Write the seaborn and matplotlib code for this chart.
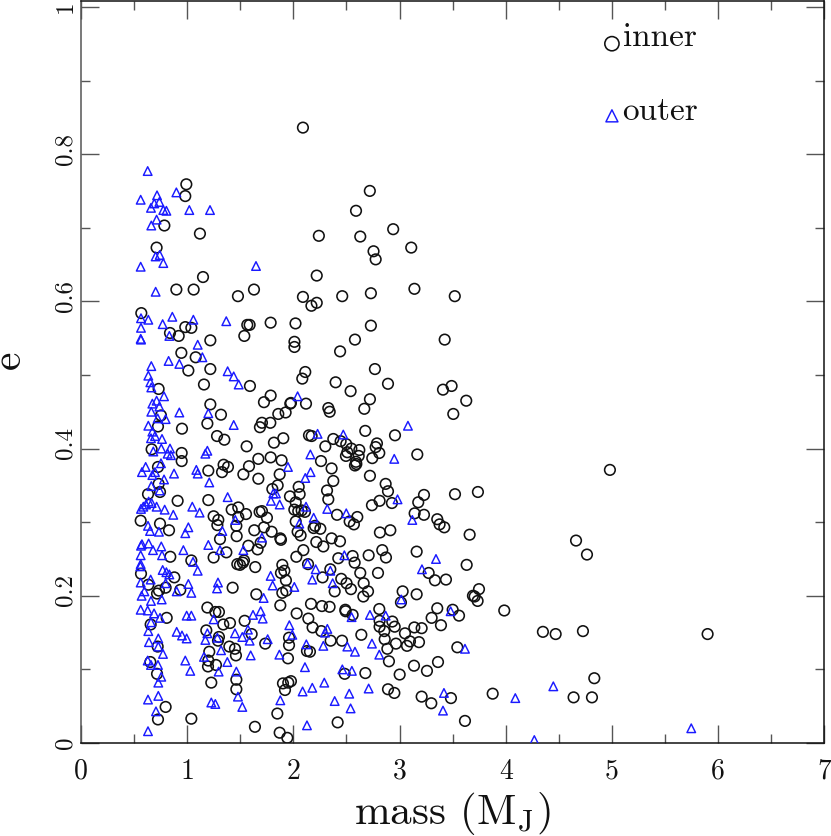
import matplotlib
matplotlib.use('Agg')
import matplotlib.pyplot as plt
import matplotlib.transforms as mtransforms
import seaborn as sns

# values
inner_mass = [
    0.992, 0.982, 0.785, 1.12, 0.712, 1.149, 0.898, 1.061, 1.478, 1.629,
    0.568, 0.982, 1.039, 1.566, 1.588, 1.786, 0.838, 0.92, 1.218, 1.538,
    2.09, 2.72, 2.59, 2.24, 2.63, 2.94, 3.11, 2.755, 2.775, 2.22,
    2.09, 2.22, 2.17, 2.46, 2.73, 3.14, 3.52, 2.02, 2.73, 2.58,
    3.425, 2.01, 2.01, 2.44,
    1.08, 1.011, 1.218, 1.158, 1.591, 0.731, 1.786, 1.723, 1.218, 1.318,
    0.945, 0.753, 1.19, 0.725, 0.951, 1.704, 1.685, 1.783, 1.281, 1.35,
    1.817, 1.56, 0.665, 0.948, 0.948, 1.67, 1.786, 0.725, 1.343, 1.384,
    1.328, 1.199, 1.582, 1.529, 1.67, 0.731, 1.802, 0.744, 0.631, 0.91,
    1.199, 1.481, 1.419, 1.554, 1.481, 1.682, 1.704, 1.751, 1.249, 1.293,
    1.284, 0.562, 0.744, 0.829, 1.463, 1.723, 1.632, 1.795, 1.309, 1.466,
    1.576, 1.692, 1.663,
    0.841, 1.039, 1.249, 1.369, 1.535, 1.525, 1.497, 1.472, 1.641, 0.565,
    0.634, 0.879, 0.935, 0.797, 0.734, 0.716, 1.428, 1.651, 1.19, 1.265,
    1.299, 0.807, 1.34, 1.403, 1.541, 0.656, 1.18, 1.607, 1.299, 1.29,
    1.735, 0.722, 1.397, 1.45, 1.208, 1.459, 0.653, 1.199, 1.196, 1.271,
    0.716, 1.463, 1.227, 1.463, 0.797, 0.725, 1.039, 1.638,
    2.768, 2.112, 2.084, 2.398, 2.891, 2.539, 3.49, 3.409, 3.628, 2.721,
    2.668, 2.329, 2.342, 2.119, 1.977, 1.971, 1.927, 1.858, 3.506, 2.677,
    2.957, 1.905, 2.147, 2.172, 2.376, 2.445, 2.498, 2.301, 2.787, 2.775,
    2.809, 2.546, 2.621, 2.615, 2.508, 2.495, 2.743, 2.59, 2.58, 2.593,
    2.26, 3.167, 1.889, 2.36, 1.871, 2.721, 2.376, 2.869, 2.891, 1.852,
    2.05, 2.059, 2.317, 2.329, 1.968, 2.022, 3.23, 3.522, 3.738, 3.176,
    2.812, 2.74, 2.928, 2.009, 2.046, 2.078, 2.109, 2.411, 2.602, 2.53,
    2.57, 3.142, 3.23, 3.355, 3.377, 3.421, 2.022, 2.204, 2.254, 2.191,
    2.04, 2.068, 1.883, 1.877, 2.815, 2.913, 3.66, 2.36, 2.439, 2.216,
    2.282, 2.094, 2.837, 3.161,
    1.896, 2.028, 2.423, 2.558, 2.577, 2.709, 2.872, 3.632, 2.138, 1.883,
    1.915, 1.93, 2.348, 2.275, 2.451, 2.501, 2.542, 2.63, 2.797, 2.662,
    2.703, 2.659, 2.389, 3.274, 3.333, 3.437, 1.896, 1.933, 3.029, 3.161,
    3.013, 1.877, 2.166, 2.269, 2.341, 2.489, 2.492, 2.558, 2.809, 2.031,
    2.141, 2.181, 2.263, 2.812, 2.932, 2.954, 2.812, 2.856, 3.355, 3.5,
    3.56, 3.302, 3.39, 3.139, 3.208, 3.051, 2.64, 1.959, 1.959, 2.351,
    2.458, 2.86, 2.966, 3.098, 3.07, 3.183, 2.885, 3.544, 2.128, 2.156,
    1.949, 2.9, 3.136, 3.362, 3.258, 2.678, 2.483, 3.001, 1.902, 1.952,
    1.977, 1.921, 2.891, 2.951, 3.208, 3.299, 3.484, 1.849, 2.417, 3.616,
    1.871, 1.943,
    4.981, 4.662, 4.765, 3.748, 3.691, 3.707, 3.735, 3.986, 4.35, 4.47,
    4.727, 5.901, 4.834, 3.877, 4.639, 4.812,
]
inner_e = [
    0.759, 0.743, 0.703, 0.692, 0.673, 0.633, 0.616, 0.616, 0.607, 0.616,
    0.584, 0.565, 0.564, 0.568, 0.568, 0.571, 0.557, 0.553, 0.547, 0.553,
    0.836, 0.75, 0.723, 0.689, 0.688, 0.698, 0.673, 0.668, 0.657, 0.635,
    0.606, 0.598, 0.594, 0.607, 0.611, 0.617, 0.607, 0.57, 0.567, 0.548,
    0.548, 0.545, 0.538, 0.532,
    0.524, 0.506, 0.508, 0.487, 0.485, 0.481, 0.472, 0.463, 0.46, 0.446,
    0.53, 0.445, 0.434, 0.43, 0.427, 0.435, 0.429, 0.435, 0.417, 0.412,
    0.408, 0.403, 0.399, 0.394, 0.383, 0.386, 0.388, 0.375, 0.378, 0.375,
    0.368, 0.37, 0.376, 0.365, 0.359, 0.352, 0.345, 0.341, 0.338, 0.329,
    0.33, 0.32, 0.317, 0.311, 0.307, 0.314, 0.315, 0.306, 0.308, 0.303,
    0.296, 0.302, 0.298, 0.289, 0.295, 0.293, 0.289, 0.287, 0.277, 0.281,
    0.268, 0.272, 0.263,
    0.253, 0.248, 0.252, 0.259, 0.248, 0.245, 0.242, 0.243, 0.239, 0.23,
    0.215, 0.225, 0.208, 0.211, 0.207, 0.203, 0.211, 0.202, 0.184, 0.178,
    0.178, 0.17, 0.161, 0.163, 0.166, 0.161, 0.153, 0.148, 0.144, 0.139,
    0.135, 0.131, 0.131, 0.128, 0.124, 0.119, 0.11, 0.112, 0.104, 0.106,
    0.094, 0.086, 0.082, 0.073, 0.049, 0.032, 0.033, 0.022,
    0.508, 0.504, 0.495, 0.49, 0.488, 0.478, 0.485, 0.48, 0.465, 0.467,
    0.454, 0.455, 0.45, 0.461, 0.462, 0.461, 0.449, 0.447, 0.447, 0.424,
    0.418, 0.414, 0.418, 0.417, 0.413, 0.41, 0.406, 0.403, 0.407, 0.402,
    0.394, 0.4, 0.398, 0.39, 0.395, 0.39, 0.387, 0.382, 0.377, 0.379,
    0.383, 0.392, 0.384, 0.373, 0.365, 0.363, 0.356, 0.352, 0.342, 0.35,
    0.348, 0.338, 0.343, 0.331, 0.335, 0.327, 0.337, 0.338, 0.341, 0.327,
    0.329, 0.323, 0.326, 0.317, 0.315, 0.316, 0.314, 0.31, 0.307, 0.301,
    0.297, 0.312, 0.31, 0.304, 0.297, 0.293, 0.301, 0.295, 0.291, 0.292,
    0.287, 0.282, 0.276, 0.278, 0.286, 0.289, 0.283, 0.278, 0.274, 0.273,
    0.267, 0.262, 0.262, 0.26,
    0.242, 0.253, 0.251, 0.254, 0.245, 0.255, 0.252, 0.242, 0.243, 0.231,
    0.234, 0.221, 0.236, 0.225, 0.223, 0.217, 0.209, 0.231, 0.231, 0.217,
    0.206, 0.199, 0.206, 0.231, 0.221, 0.222, 0.204, 0.207, 0.206, 0.202,
    0.191, 0.187, 0.189, 0.186, 0.185, 0.181, 0.179, 0.174, 0.182, 0.176,
    0.169, 0.157, 0.152, 0.166, 0.165, 0.158, 0.158, 0.152, 0.183, 0.181,
    0.173, 0.17, 0.16, 0.157, 0.156, 0.149, 0.147, 0.143, 0.133, 0.139,
    0.139, 0.141, 0.135, 0.138, 0.132, 0.137, 0.128, 0.13, 0.125, 0.124,
    0.115, 0.111, 0.105, 0.11, 0.098, 0.095, 0.094, 0.093, 0.081, 0.082,
    0.084, 0.072, 0.073, 0.068, 0.063, 0.054, 0.061, 0.04, 0.028, 0.03,
    0.014, 0.007,
    0.371, 0.275, 0.256, 0.209, 0.2, 0.199, 0.193, 0.18, 0.151, 0.148,
    0.152, 0.148, 0.088, 0.067, 0.062, 0.062,
]

outer_mass = [
    0.628, 0.716, 0.898, 0.562, 0.738, 0.69, 0.659, 0.775, 0.804, 1.02,
    1.215, 0.712, 0.662, 0.741, 0.703, 0.775, 0.562, 1.648, 0.703, 0.565,
    0.634, 0.86, 0.769, 1.058, 1.368, 0.565, 0.832, 0.562, 0.565, 1.099,
    0.662, 0.825, 0.926, 1.143, 0.634, 0.653, 0.662, 1.381, 1.438, 1.485,
    0.782, 0.672, 0.712, 0.738, 0.662, 0.926, 1.199, 0.722, 0.797, 0.634,
    1.438, 0.672, 0.659, 0.697, 0.763, 0.681, 0.756, 0.838, 0.816, 0.847,
    1.19, 1.171, 0.753, 0.609, 0.574, 0.697, 0.672, 0.876, 1.086, 1.099,
    0.782, 1.208, 0.662, 0.741, 1.381, 1.811, 1.789, 0.637, 0.612, 0.587,
    0.565, 0.665, 0.712, 0.788, 1.048, 0.869, 1.117, 1.453, 0.631, 1.011,
    0.65, 0.734, 0.982, 1.331, 1.704, 0.565, 0.574, 0.637, 0.756, 1.199,
    0.562, 0.678, 0.763, 0.964, 1.309, 1.529, 0.562, 0.559, 1.055, 1.099,
    0.769, 0.804, 0.832, 0.656, 0.562, 1.29, 1.281, 1.011, 0.797, 1.786,
    1.805, 0.597, 0.571, 0.901, 1.039, 0.659, 0.76, 1.72, 0.562, 0.628,
    0.688, 0.744, 0.995, 1.039, 1.249, 1.62, 1.692, 1.711, 0.659, 0.634,
    0.901, 0.951, 0.995, 1.19, 1.171, 1.284, 1.45, 1.572, 1.519, 1.588,
    1.758, 0.64, 0.728, 0.728, 0.772, 1.319, 1.598, 0.982, 1.158, 0.628,
    0.659, 0.725, 1.378, 1.029, 1.296, 1.463, 0.756, 0.728, 0.728, 0.631,
    1.478, 1.227, 1.265, 1.519, 0.706, 0.631,
    2.04, 3.079, 2.228, 2.47, 2.16, 2.95, 1.949, 2.162, 2.112, 1.836,
    2.981, 1.871, 2.119, 2.319, 2.498, 3.12, 2.191, 2.056,
    2.134, 2.21, 2.348, 2.178, 2.37, 2.009, 2.48, 3.343, 3.211, 3.016,
    3.481, 2.869, 2.721, 2.548, 1.962, 2.32, 2.298, 1.99, 2.122, 2.282,
    2.508, 2.74, 2.58, 2.809, 3.616, 1.868, 2.109, 2.461, 2.551, 2.291,
    2.178, 2.087, 2.709, 1.877, 2.526, 2.389, 2.539, 3.418, 3.409, 2.128,
    4.448, 4.09, 5.747, 4.269,
]
outer_e = [
    0.777, 0.744, 0.748, 0.738, 0.735, 0.733, 0.727, 0.724, 0.723, 0.724,
    0.724, 0.711, 0.703, 0.663, 0.661, 0.652, 0.647, 0.648, 0.613, 0.577,
    0.575, 0.579, 0.569, 0.575, 0.573, 0.564, 0.553, 0.549, 0.548, 0.541,
    0.512, 0.519, 0.515, 0.524, 0.499, 0.49, 0.483, 0.505, 0.498, 0.487,
    0.471, 0.461, 0.465, 0.457, 0.45, 0.449, 0.448, 0.441, 0.44, 0.431,
    0.432, 0.423, 0.414, 0.417, 0.413, 0.396, 0.4, 0.4, 0.393, 0.391,
    0.397, 0.393, 0.38, 0.375, 0.368, 0.368, 0.364, 0.366, 0.371, 0.366,
    0.358, 0.354, 0.349, 0.343, 0.334, 0.339, 0.329, 0.328, 0.324, 0.321,
    0.318, 0.326, 0.321, 0.317, 0.321, 0.31, 0.313, 0.303, 0.295, 0.293,
    0.288, 0.287, 0.285, 0.288, 0.279, 0.268, 0.27, 0.271, 0.267, 0.269,
    0.255, 0.262, 0.255, 0.262, 0.262, 0.262, 0.243, 0.24, 0.246, 0.234,
    0.235, 0.232, 0.229, 0.222, 0.218, 0.218, 0.21, 0.216, 0.217, 0.227,
    0.214, 0.206, 0.2, 0.206, 0.204, 0.193, 0.195, 0.197, 0.181, 0.18,
    0.176, 0.17, 0.173, 0.173, 0.168, 0.174, 0.179, 0.169, 0.164, 0.152,
    0.151, 0.146, 0.142, 0.149, 0.14, 0.143, 0.149, 0.154, 0.144, 0.139,
    0.141, 0.137, 0.142, 0.131, 0.121, 0.126, 0.119, 0.112, 0.117, 0.112,
    0.106, 0.106, 0.11, 0.098, 0.097, 0.097, 0.09, 0.082, 0.064, 0.059,
    0.063, 0.055, 0.053, 0.049, 0.043, 0.016,
    0.471, 0.431, 0.42, 0.419, 0.392, 0.386, 0.375, 0.368, 0.36, 0.339,
    0.331, 0.324, 0.321, 0.318, 0.312, 0.303, 0.306, 0.298,
    0.244, 0.236, 0.234, 0.222, 0.217, 0.212, 0.255, 0.25, 0.236, 0.195,
    0.179, 0.173, 0.174, 0.171, 0.16, 0.155, 0.15, 0.147, 0.134, 0.132,
    0.131, 0.135, 0.124, 0.12, 0.128, 0.12, 0.103, 0.1, 0.098, 0.082,
    0.075, 0.07, 0.074, 0.058, 0.067, 0.057, 0.047, 0.068, 0.044, 0.024,
    0.077, 0.061, 0.02, 0.004,
]

key_mass = [5.0]
inner_key_e = [0.95]
outer_key_e = [0.852]

x_ticks = [0, 1, 2, 3, 4, 5, 6, 7]
y_ticks = [0, 0.2, 0.4, 0.6, 0.8, 1]
y_labels = ['0', '0.2', '0.4', '0.6', '0.8', '1']

sns.set_theme(style='ticks')
plt.rcParams['font.family'] = ['cmr10', 'DejaVu Serif']
plt.rcParams['mathtext.fontset'] = 'cm'
plt.rcParams['axes.formatter.use_mathtext'] = True

fig = plt.figure(figsize=(8.31, 8.36), dpi=100)
ax = fig.add_axes([81 / 831, 93 / 836, 743.3 / 831, 742 / 836])

circle = dict(marker='o', facecolor='none', edgecolor='#111111', zorder=3, ax=ax)
triangle = dict(marker='^', facecolor='none', edgecolor='#1a1aff', zorder=4, ax=ax)

sns.scatterplot(x=inner_mass, y=inner_e, s=58, linewidth=1.15, **circle)
sns.scatterplot(x=outer_mass, y=outer_e, s=38, linewidth=1.05, **triangle)
sns.scatterplot(x=key_mass, y=inner_key_e, s=105, linewidth=1.15, **circle)
sns.scatterplot(x=key_mass, y=outer_key_e, s=75, linewidth=1.05, **triangle)

ax.text(5.1, 0.947, 'inner', fontsize=24, color='#111111')
ax.text(5.1, 0.846, 'outer', fontsize=24, color='#111111')

ax.set_xlim(0, 7)
ax.set_ylim(0, 1.008)
ax.set_xticks(x_ticks)
ax.set_xticklabels([str(t) for t in x_ticks])
ax.set_yticks(y_ticks)
ax.set_yticklabels(y_labels, rotation=90, va='center')
ax.set_xticks([0.5, 1.5, 2.5, 3.5, 4.5, 5.5, 6.5], minor=True)
ax.set_yticks([0.1, 0.3, 0.5, 0.7, 0.9], minor=True)

ax.tick_params(which='major', direction='in', length=13, width=1, color='#555555',
               top=True, right=True, labelsize=20, pad=11, labelcolor='#111111')
ax.tick_params(which='minor', direction='in', length=6.5, width=1, color='#555555',
               top=True, right=True)
ax.tick_params(axis='y', which='major', labelsize=18, pad=3)

# the longer y labels sit a little above their ticks in the reference
shift_up = mtransforms.ScaledTranslation(0, 4 / 72, fig.dpi_scale_trans)
for lab in ax.get_yticklabels():
    if '.' in lab.get_text():
        lab.set_transform(lab.get_transform() + shift_up)

for side in ax.spines:
    ax.spines[side].set_linewidth(1.1)
    ax.spines[side].set_color('#111111')
ax.spines['left'].set_color('#555555')

ax.set_xlabel('mass ($\\mathrm{M_J}$)', fontsize=31, labelpad=4, color='#111111')
ax.set_ylabel('e', fontsize=30, color='#111111')
ax.yaxis.set_label_coords(-0.072, 0.516)

fig.savefig('out.png', dpi=100)
